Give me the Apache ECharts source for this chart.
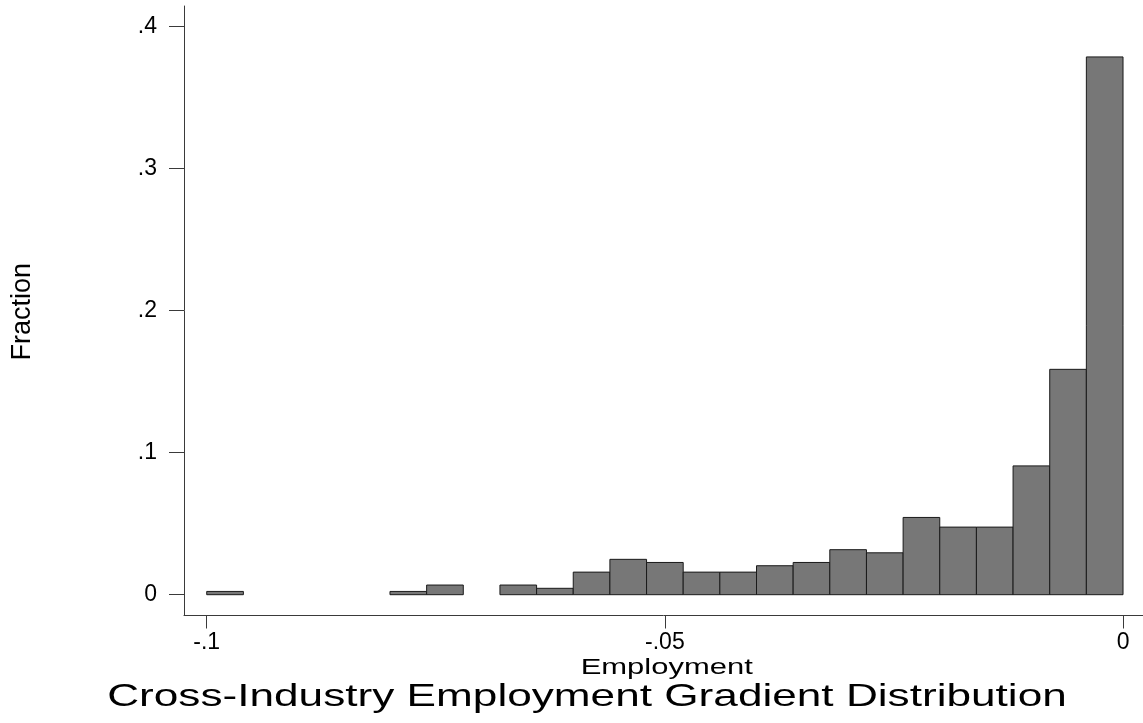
<!DOCTYPE html>
<html>
<head>
<meta charset="utf-8">
<script src="https://cdn.jsdelivr.net/npm/echarts@6/dist/echarts.min.js"></script>
<style>
html,body{margin:0;padding:0;background:#ffffff;}
#chart{width:1143px;height:723px;}
</style>
</head>
<body>
<div id="chart"></div>
<script>
// ---- data ----
const binStart = [-0.100, -0.096, -0.092, -0.088, -0.084, -0.080, -0.076, -0.072, -0.068, -0.064,
                  -0.060, -0.056, -0.052, -0.048, -0.044, -0.040, -0.036, -0.032, -0.028, -0.024,
                  -0.020, -0.016, -0.012, -0.008, -0.004];
const binWidth = 0.004;
const fraction = [0.0023, 0, 0, 0, 0, 0.0023, 0.0068, 0, 0.0068, 0.0045,
                  0.0159, 0.0249, 0.0227, 0.0159, 0.0159, 0.0204, 0.0227, 0.0317, 0.0295, 0.0544,
                  0.0476, 0.0476, 0.0907, 0.1587, 0.3787];
const xTickValues = [-0.1, -0.05, 0];
const xTickLabels = ['-.1', '-.05', '0'];
const yTickValues = [0, 0.1, 0.2, 0.3, 0.4];
const yTickLabels = ['0', '.1', '.2', '.3', '.4'];
const titleText = 'Cross-Industry Employment Gradient Distribution';
const xAxisTitle = 'Employment';
const yAxisTitle = 'Fraction';

function lookup(values, labels, v) {
  const i = values.findIndex(t => Math.abs(t - v) < 1e-9);
  return i >= 0 ? labels[i] : '';
}

const FONT = '"Liberation Sans", Arial, Helvetica, sans-serif';
const AXIS_COLOR = '#3a3a3a';

const chart = echarts.init(document.getElementById('chart'), null, {renderer: 'canvas'});

const option = {
  backgroundColor: '#ffffff',
  animation: false,
  grid: {left: 184, right: 0, top: 6, bottom: 107.5, containLabel: false, outerBoundsMode: 'none'},
  xAxis: {
    type: 'value',
    min: -0.10248,
    max: 0.00218,
    splitLine: {show: false},
    axisLine: {show: true, onZero: false, lineStyle: {color: AXIS_COLOR, width: 1}},
    axisTick: {show: true, length: 13, customValues: xTickValues, lineStyle: {color: AXIS_COLOR, width: 1}},
    axisLabel: {
      show: true, customValues: xTickValues, margin: 16,
      fontFamily: FONT, fontSize: 23, color: '#000000',
      formatter: v => lookup(xTickValues, xTickLabels, v)
    }
  },
  yAxis: {
    type: 'value',
    min: -0.01465,
    max: 0.41457,
    splitLine: {show: false},
    axisLine: {show: true, onZero: false, lineStyle: {color: AXIS_COLOR, width: 1}},
    axisTick: {show: true, length: 15, customValues: yTickValues, lineStyle: {color: AXIS_COLOR, width: 1}},
    axisLabel: {
      show: true, customValues: yTickValues, margin: 27,
      fontFamily: FONT, fontSize: 23, color: '#000000',
      formatter: v => lookup(yTickValues, yTickLabels, v)
    }
  },
  series: [{
    type: 'custom',
    data: binStart.map((s, i) => [s, s + binWidth, fraction[i]]),
    encode: {x: [0, 1], y: 2},
    renderItem: function (params, api) {
      const x0 = api.value(0), x1 = api.value(1), v = api.value(2);
      if (!(v > 0)) return null;
      const p0 = api.coord([x0, v]);
      const p1 = api.coord([x1, 0]);
      return {
        type: 'rect',
        shape: {x: p0[0], y: p0[1], width: p1[0] - p0[0], height: p1[1] - p0[1]},
        style: {fill: '#777777', stroke: '#1a1a1a', lineWidth: 1}
      };
    }
  }],
  graphic: [
    {
      type: 'text', x: 587, y: 697.5, scaleX: 1.38,
      style: {text: titleText, font: '32px ' + FONT, fill: '#000000',
              align: 'center', verticalAlign: 'middle', textAlign: 'center', textVerticalAlign: 'middle'}
    },
    {
      type: 'text', x: 666.7, y: 668, scaleX: 1.44,
      style: {text: xAxisTitle, font: '21.5px ' + FONT, fill: '#000000',
              align: 'center', verticalAlign: 'middle', textAlign: 'center', textVerticalAlign: 'middle'}
    },
    {
      type: 'text', x: 22.8, y: 311.7, rotation: Math.PI / 2,
      style: {text: yAxisTitle, font: '27px ' + FONT, fill: '#000000',
              align: 'center', verticalAlign: 'middle', textAlign: 'center', textVerticalAlign: 'middle'}
    }
  ]
};
chart.setOption(option);
</script>
</body>
</html>
